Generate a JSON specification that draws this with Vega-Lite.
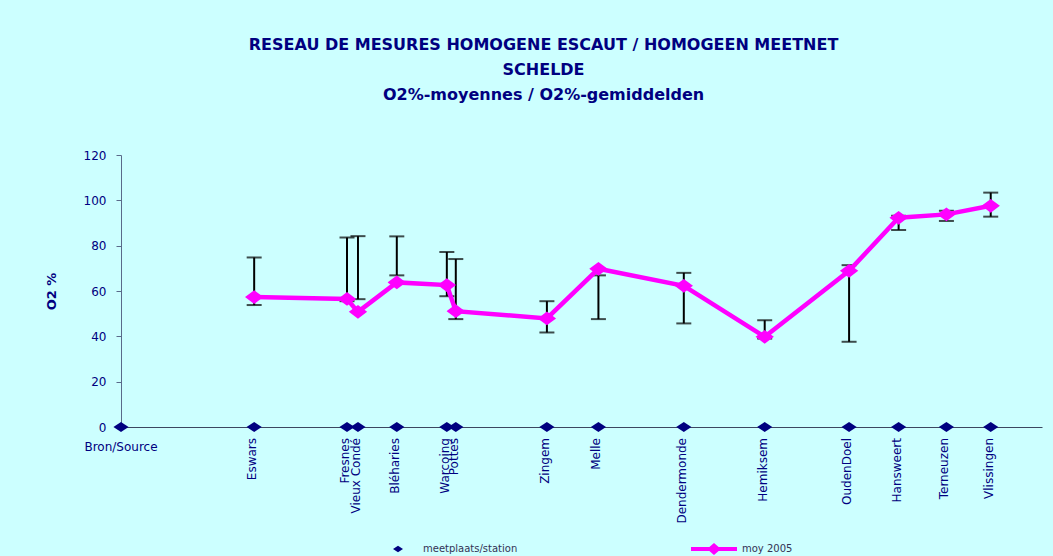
{
  "$schema": "https://vega.github.io/schema/vega-lite/v6.json",
  "width": 921,
  "height": 272,
  "autosize": {"type": "none"},
  "padding": {"left": 121, "top": 155, "right": 11, "bottom": 129},
  "background": "#CCFFFF",
  "title": {
    "text": ["RESEAU DE MESURES HOMOGENE ESCAUT / HOMOGEEN MEETNET", "SCHELDE", "O2%-moyennes / O2%-gemiddelden"],
    "font": "DejaVu Sans",
    "fontSize": 16,
    "fontWeight": "bold",
    "color": "#000080",
    "lineHeight": 25,
    "anchor": "middle",
    "frame": "bounds",
    "offset": 46
  },
  "config": {"view": {"stroke": null}, "axis": {"grid": false}},
  "data": {
    "values": [
      {"name": "Bron/Source", "km": 0},
      {"name": "Eswars", "km": 53.5, "mean": 57.3, "low": 53.8, "high": 74.8},
      {"name": "Fresnes", "km": 90.8, "mean": 56.5, "low": 55.5, "high": 83.6},
      {"name": "Vieux Condé", "km": 95.2, "mean": 50.8, "low": 56.4, "high": 84.2},
      {"name": "Bléharies", "km": 110.8, "mean": 63.8, "low": 66.9, "high": 84.1},
      {"name": "Warcoing", "km": 130.9, "mean": 62.6, "low": 57.7, "high": 77.2},
      {"name": "Pottes", "km": 134.5, "mean": 51.1, "low": 47.6, "high": 74.1},
      {"name": "Zingem", "km": 171.1, "mean": 47.9, "low": 41.7, "high": 55.5},
      {"name": "Melle", "km": 191.8, "mean": 69.8, "low": 47.6, "high": 66.9},
      {"name": "Dendermonde", "km": 226.1, "mean": 62.3, "low": 45.7, "high": 68.0},
      {"name": "Hemiksem", "km": 258.6, "mean": 39.8, "low": 39.0, "high": 47.1},
      {"name": "OudenDoel", "km": 292.5, "mean": 68.9, "low": 37.6, "high": 71.4},
      {"name": "Hansweert", "km": 312.4, "mean": 92.3, "low": 86.9, "high": 93.2},
      {"name": "Terneuzen", "km": 331.6, "mean": 93.8, "low": 90.9, "high": 95.4},
      {"name": "Vlissingen", "km": 349.4, "mean": 97.6, "low": 92.8, "high": 103.4}
    ]
  },
  "layer": [
    {
      "transform": [{"filter": "isValid(datum.low)"}],
      "mark": {"type": "rule", "color": "black", "strokeWidth": 2},
      "encoding": {
        "x": {
          "field": "km", "type": "quantitative",
          "scale": {"domain": [0, 370], "nice": false},
          "axis": {"title": null, "labels": false, "ticks": false, "domainColor": "#3c4660", "domainWidth": 1}
        },
        "y": {
          "field": "low", "type": "quantitative",
          "scale": {"domain": [0, 120], "nice": false},
          "axis": {
            "title": "O2 %",
            "values": [0, 20, 40, 60, 80, 100, 120],
            "tickSize": 5,
            "tickColor": "#5a6a8a",
            "domainColor": "#5a6a8a",
            "labelColor": "#000080",
            "labelFont": "DejaVu Sans",
            "labelFontSize": 12,
            "labelPadding": 10,
            "titleColor": "#000080",
            "titleFont": "DejaVu Sans",
            "titleFontSize": 13,
            "titleFontWeight": "bold",
            "titlePadding": 25
          }
        },
        "y2": {"field": "high"}
      }
    },
    {
      "transform": [{"filter": "isValid(datum.low)"}],
      "mark": {"type": "tick", "orient": "horizontal", "color": "black", "thickness": 2, "size": 15},
      "encoding": {
        "x": {"field": "km", "type": "quantitative"},
        "y": {"field": "low", "type": "quantitative"}
      }
    },
    {
      "transform": [{"filter": "isValid(datum.high)"}],
      "mark": {"type": "tick", "orient": "horizontal", "color": "black", "thickness": 2, "size": 15},
      "encoding": {
        "x": {"field": "km", "type": "quantitative"},
        "y": {"field": "high", "type": "quantitative"}
      }
    },
    {
      "transform": [{"filter": "isValid(datum.mean)"}],
      "mark": {
        "type": "line", "strokeWidth": 4.5,
        "point": {"filled": true, "fill": "#FF00FF", "shape": "M-1,0L0,-0.75L1,0L0,0.75Z", "size": 225, "opacity": 1}
      },
      "encoding": {
        "x": {"field": "km", "type": "quantitative"},
        "y": {"field": "mean", "type": "quantitative"},
        "stroke": {
          "datum": "moy 2005",
          "type": "nominal",
          "scale": {"domain": ["moy 2005"], "range": ["#FF00FF"]},
          "legend": {
            "orient": "none",
            "legendX": 568,
            "legendY": 369,
            "title": null,
            "padding": 0,
            "symbolType": "M-1,0L1,0M-0.17,0L0,-0.15L0.17,0L0,0.15Z",
            "symbolSize": 2116,
            "symbolStrokeWidth": 4,
            "symbolFillColor": "#FF00FF",
            "symbolStrokeColor": "#FF00FF",
            "labelOffset": 3,
            "labelFont": "DejaVu Sans",
            "labelFontSize": 10,
            "labelColor": "#333355",
            "labelLimit": 300
          }
        }
      }
    },
    {
      "mark": {"type": "point", "filled": true, "shape": "M-1,0L0,-0.65L1,0L0,0.65Z", "size": 230, "opacity": 1},
      "encoding": {
        "x": {"field": "km", "type": "quantitative"},
        "y": {"datum": 0, "type": "quantitative"},
        "color": {
          "datum": "meetplaats/station",
          "type": "nominal",
          "scale": {"domain": ["meetplaats/station"], "range": ["#000080"]},
          "legend": {
            "orient": "none",
            "legendX": 271,
            "legendY": 388,
            "title": null,
            "padding": 0,
            "symbolType": "M-1,0L0,-0.65L1,0L0,0.65Z",
            "symbolSize": 100,
            "labelOffset": 19,
            "labelFont": "DejaVu Sans",
            "labelFontSize": 10,
            "labelColor": "#333355",
            "labelLimit": 300
          }
        }
      }
    },
    {
      "transform": [{"filter": "datum.name !== 'Bron/Source'"}],
      "mark": {"type": "text", "angle": 270, "align": "right", "baseline": "middle", "dx": -11, "dy": -2, "font": "DejaVu Sans", "fontSize": 12, "color": "#000080"},
      "encoding": {
        "x": {"field": "km", "type": "quantitative"},
        "y": {"datum": 0, "type": "quantitative"},
        "text": {"field": "name"}
      }
    },
    {
      "transform": [{"filter": "datum.name === 'Bron/Source'"}],
      "mark": {"type": "text", "align": "center", "baseline": "top", "dy": 15, "font": "DejaVu Sans", "fontSize": 12, "color": "#000080"},
      "encoding": {
        "x": {"field": "km", "type": "quantitative"},
        "y": {"datum": 0, "type": "quantitative"},
        "text": {"field": "name"}
      }
    }
  ]
}
